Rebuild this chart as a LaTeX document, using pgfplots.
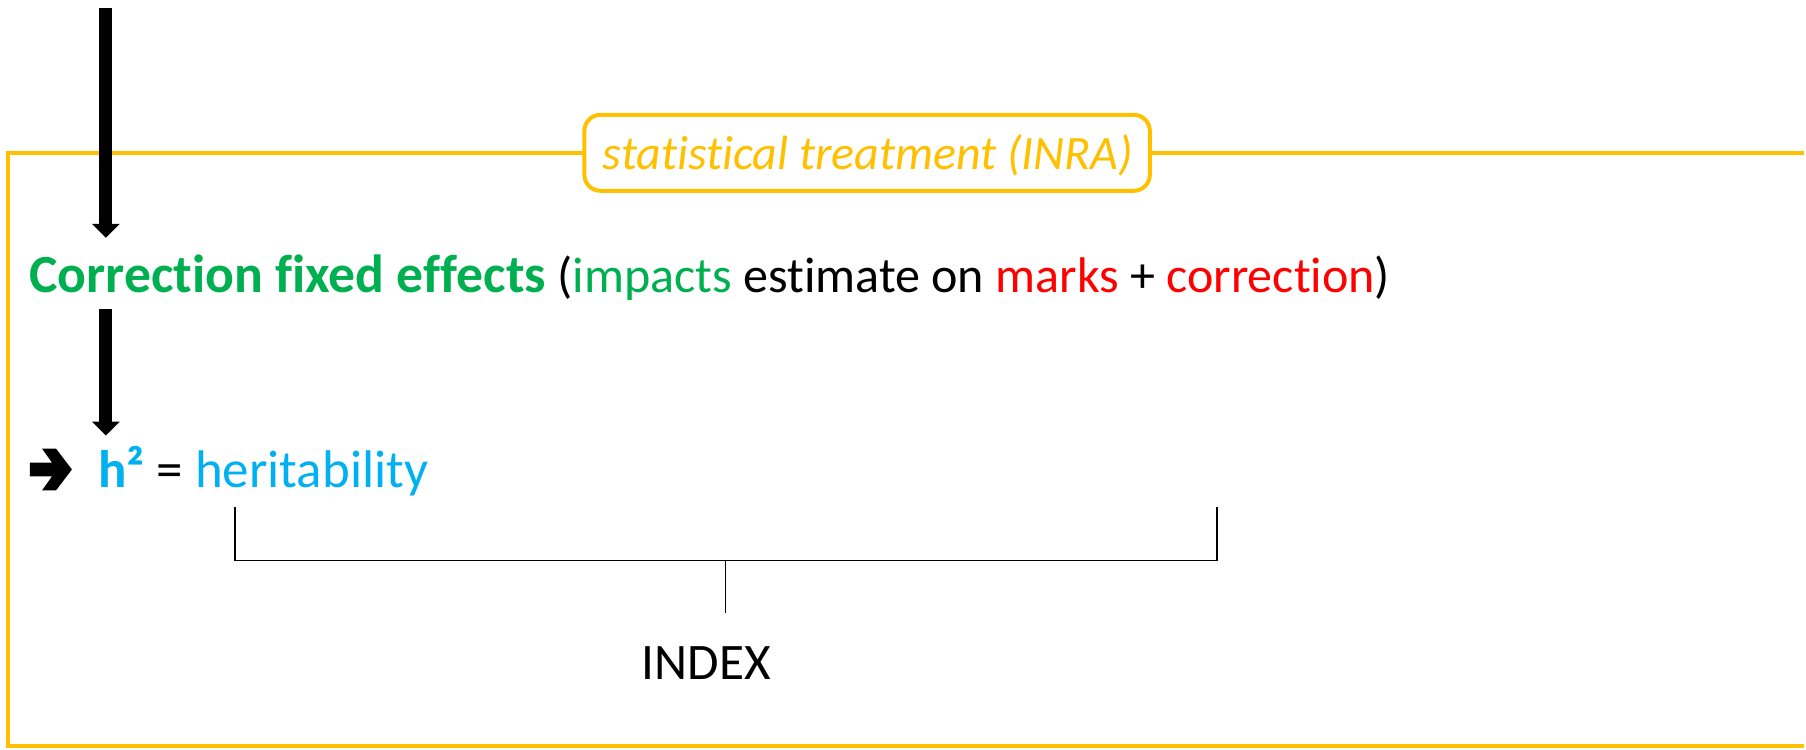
\documentclass[border=0pt]{standalone}
\usepackage{pgfplots}
\pgfplotsset{compat=1.18}
\usepackage{fontspec}
\setmainfont[Ligatures=NoCommon]{Carlito}
\usetikzlibrary{arrows.meta}
\definecolor{cyel}{HTML}{FFC000}
\definecolor{cgreen}{HTML}{00B050}
\definecolor{cred}{HTML}{FF0000}
\definecolor{cblue}{HTML}{00B0F0}
\begin{document}
\begin{tikzpicture}
\begin{axis}[
  scale only axis, width=722.4pt, height=300pt,
  xmin=0, xmax=1806, ymin=0, ymax=750, y dir=reverse,
  hide axis, clip=false,
]
% bounding box
\path (axis cs:0,0) rectangle (axis cs:1806,750);
% yellow frame
\addplot[cyel, line width=1.5pt] coordinates {(1806,153) (8,153) (8,747) (1806,747)};
% box
\draw[cyel, line width=1.6pt, fill=white, rounded corners=6.4pt] (axis cs:585,115) rectangle (axis cs:1151,191);
\node[anchor=base, inner sep=0pt, font=\fontsize{19.2pt}{23pt}\selectfont\itshape, text=cyel] at (axis cs:869,170) {statistical treatment (INRA)};
% arrows
\addplot[black, line width=5.2pt, -{Triangle[width=10.8pt, length=5.6pt]}] coordinates {(106,8) (106,238)};
\addplot[black, line width=5.2pt, -{Triangle[width=10.8pt, length=5.6pt]}] coordinates {(106,309) (106,436)};
% line 2
\node[anchor=base west, inner sep=0pt, font=\fontsize{21.5pt}{26pt}\selectfont] at (axis cs:29,293)
  {{\bfseries\color{cgreen}Correction fixed effects}\fontsize{20.05pt}{24pt}\selectfont\ (\textcolor{cgreen}{impacts} estimate on \textcolor{cred}{marks} + \textcolor{cred}{correction})};
% line 3: heavy arrow
\fill[black] (axis cs:30,463) -- (axis cs:52,463) -- (axis cs:42,449) -- (axis cs:56,449) -- (axis cs:72,470)
  -- (axis cs:56,491) -- (axis cs:42,491) -- (axis cs:52,477) -- (axis cs:30,477) -- cycle;
\node[anchor=base west, inner sep=0pt, font=\fontsize{21.2pt}{26pt}\selectfont] at (axis cs:98,488)
  {\textbf{\textcolor{cblue}{h²}} = \textcolor{cblue}{heritability}};
% bracket
\addplot[black, line width=0.7pt] coordinates {(235,508) (235,561) (1218,561) (1218,508)};
\addplot[black, line width=0.6pt] coordinates {(726,561) (726,614)};
\node[anchor=base west, inner sep=0pt, font=\fontsize{20.5pt}{24pt}\selectfont] at (axis cs:642,680) {INDEX};
\end{axis}
\end{tikzpicture}
\end{document}
